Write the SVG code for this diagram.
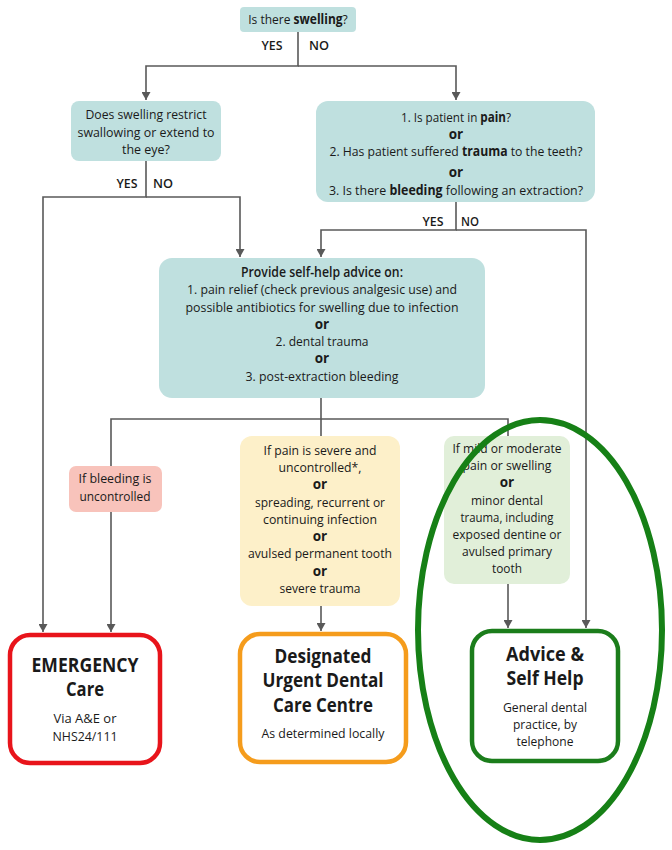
<svg xmlns="http://www.w3.org/2000/svg" width="672" height="850" viewBox="0 0 672 850">
<style>
text{font-family:"Open Sans","Noto Sans","Liberation Sans",sans-serif;font-size:13.5px;fill:#1a1a1a;text-anchor:middle}
.b{font-weight:bold}
.yn{font-size:12.5px;font-weight:600}
.h{font-size:19px;font-weight:bold}
.s{font-size:13px}
.teal{fill:#bfe0df}
.red{fill:#f8c3bb}
.yel{fill:#fdf0c9}
.grn{fill:#e1efd9}
.c{fill:none;stroke:#595959;stroke-width:1.6}
.ca{fill:none;stroke:#595959;stroke-width:1.6;marker-end:url(#ar)}
.out{fill:#fff;stroke-width:4.5}
</style>
<defs>
<marker id="ar" markerUnits="userSpaceOnUse" markerWidth="9" markerHeight="9" refX="8" refY="4.5" orient="auto" viewBox="0 0 9 9">
<path d="M0,0 L8,4.5 L0,9 z" fill="#595959"/>
</marker>
</defs>
<rect width="672" height="850" fill="#fff"/>

<g id="connectors">
<path class="ca" d="M298,32 V66 H146 V100"/>
<path class="ca" d="M298,66 H456 V100"/>
<path class="ca" d="M146,161 V197 H43 V632"/>
<path class="ca" d="M146,197 H240 V257"/>
<path class="ca" d="M456,202 V230 H321 V257"/>
<path class="ca" d="M456,230 H586 V628"/>
<path class="c" d="M321,398 V419 H111 V466"/>
<path class="c" d="M321,419 V436"/>
<path class="c" d="M321,419 H508 V436"/>
<path class="ca" d="M111,512 V632"/>
<path class="ca" d="M321,606 V631"/>
<path class="ca" d="M508,584 V628"/>
<text class="yn" x="272" y="50" textLength="21" lengthAdjust="spacingAndGlyphs">YES</text>
<text class="yn" x="319" y="50" textLength="20" lengthAdjust="spacingAndGlyphs">NO</text>
<text class="yn" x="127" y="188" textLength="21" lengthAdjust="spacingAndGlyphs">YES</text>
<text class="yn" x="163" y="188" textLength="20" lengthAdjust="spacingAndGlyphs">NO</text>
<text class="yn" x="433" y="226" textLength="21" lengthAdjust="spacingAndGlyphs">YES</text>
<text class="yn" x="470" y="226" textLength="18" lengthAdjust="spacingAndGlyphs">NO</text>
</g>

<g id="q-swelling">
<rect class="teal" x="240" y="7" width="116" height="25" rx="4"/>
<text transform="translate(298,24) scale(0.89,1)">Is there <tspan class="b">swelling</tspan>?</text>
</g>

<g id="q-restrict">
<rect class="teal" x="71" y="101" width="150" height="60" rx="8"/>
<text x="146" y="119" textLength="121" lengthAdjust="spacingAndGlyphs">Does swelling restrict</text>
<text x="146" y="137" textLength="137" lengthAdjust="spacingAndGlyphs">swallowing or extend to</text>
<text x="146" y="154" textLength="48" lengthAdjust="spacingAndGlyphs">the eye?</text>
</g>

<g id="q-pain">
<rect class="teal" x="316" y="101" width="279" height="101" rx="12"/>
<text transform="translate(456,122) scale(0.865,1)">1. Is patient in <tspan class="b">pain</tspan>?</text>
<text class="b" x="456" y="139">or</text>
<text transform="translate(456,156) scale(0.905,1)">2. Has patient suffered <tspan class="b">trauma</tspan> to the teeth?</text>
<text class="b" x="456" y="177">or</text>
<text transform="translate(456,195) scale(0.92,1)">3. Is there <tspan class="b">bleeding</tspan> following an extraction?</text>
</g>

<g id="self-help">
<rect class="teal" x="159" y="258" width="326" height="140" rx="13"/>
<text x="322" y="277" font-weight="600" textLength="162" lengthAdjust="spacingAndGlyphs">Provide self-help advice on:</text>
<text x="322" y="294" textLength="270" lengthAdjust="spacingAndGlyphs">1. pain relief (check previous analgesic use) and</text>
<text x="322" y="312" textLength="273" lengthAdjust="spacingAndGlyphs">possible antibiotics for swelling due to infection</text>
<text class="b" x="322" y="329">or</text>
<text x="322" y="346" textLength="93" lengthAdjust="spacingAndGlyphs">2. dental trauma</text>
<text class="b" x="322" y="363">or</text>
<text x="322" y="381" textLength="153" lengthAdjust="spacingAndGlyphs">3. post-extraction bleeding</text>
</g>

<g id="c-bleeding">
<rect class="red" x="69" y="466" width="93" height="46" rx="7"/>
<text x="115" y="483" textLength="73" lengthAdjust="spacingAndGlyphs">If bleeding is</text>
<text x="115" y="501" textLength="71" lengthAdjust="spacingAndGlyphs">uncontrolled</text>
</g>

<g id="c-severe">
<rect class="yel" x="240" y="436" width="160" height="170" rx="12"/>
<text x="320" y="455" textLength="113" lengthAdjust="spacingAndGlyphs">If pain is severe and</text>
<text x="320" y="472" textLength="83" lengthAdjust="spacingAndGlyphs">uncontrolled*,</text>
<text class="b" x="320" y="489">or</text>
<text x="320" y="507" textLength="130" lengthAdjust="spacingAndGlyphs">spreading, recurrent or</text>
<text x="320" y="524" textLength="114" lengthAdjust="spacingAndGlyphs">continuing infection</text>
<text class="b" x="320" y="541">or</text>
<text x="320" y="558" textLength="144" lengthAdjust="spacingAndGlyphs">avulsed permanent tooth</text>
<text class="b" x="320" y="576">or</text>
<text x="320" y="593" textLength="81" lengthAdjust="spacingAndGlyphs">severe trauma</text>
</g>

<g id="c-mild">
<rect class="grn" x="444" y="436" width="126" height="148" rx="10"/>
<text x="507" y="453" textLength="109" lengthAdjust="spacingAndGlyphs">If mild or moderate</text>
<text x="507" y="470" textLength="89" lengthAdjust="spacingAndGlyphs">pain or swelling</text>
<text class="b" x="507" y="487">or</text>
<text x="507" y="505" textLength="72" lengthAdjust="spacingAndGlyphs">minor dental</text>
<text x="507" y="522" textLength="93" lengthAdjust="spacingAndGlyphs">trauma, including</text>
<text x="507" y="539" textLength="109" lengthAdjust="spacingAndGlyphs">exposed dentine or</text>
<text x="507" y="556" textLength="90" lengthAdjust="spacingAndGlyphs">avulsed primary</text>
<text x="507" y="573" textLength="30" lengthAdjust="spacingAndGlyphs">tooth</text>
</g>

<g id="emergency">
<rect class="out" x="10" y="635" width="150" height="128" rx="20" stroke="#e8141b"/>
<text class="h" x="85" y="672" textLength="107" lengthAdjust="spacingAndGlyphs">EMERGENCY</text>
<text class="h" x="85" y="696" textLength="38" lengthAdjust="spacingAndGlyphs">Care</text>
<text class="s" x="85" y="723" textLength="63" lengthAdjust="spacingAndGlyphs">Via A&amp;E or</text>
<text class="s" x="85" y="741" textLength="65" lengthAdjust="spacingAndGlyphs">NHS24/111</text>
</g>

<g id="urgent">
<rect class="out" x="240" y="634" width="166" height="128" rx="20" stroke="#f59c1c"/>
<text class="h" x="323" y="663" textLength="97" lengthAdjust="spacingAndGlyphs">Designated</text>
<text class="h" x="323" y="687" textLength="121" lengthAdjust="spacingAndGlyphs">Urgent Dental</text>
<text class="h" x="323" y="712" textLength="100" lengthAdjust="spacingAndGlyphs">Care Centre</text>
<text class="s" x="323" y="738" textLength="123" lengthAdjust="spacingAndGlyphs">As determined locally</text>
</g>

<g id="advice">
<rect class="out" x="472" y="631" width="146" height="130" rx="20" stroke="#1b7d1b"/>
<text class="h" x="545" y="661" textLength="78" lengthAdjust="spacingAndGlyphs">Advice &amp;</text>
<text class="h" x="545" y="685" textLength="77" lengthAdjust="spacingAndGlyphs">Self Help</text>
<text class="s" x="545" y="712" textLength="84" lengthAdjust="spacingAndGlyphs">General dental</text>
<text class="s" x="545" y="729" textLength="64" lengthAdjust="spacingAndGlyphs">practice, by</text>
<text class="s" x="545" y="746" textLength="57" lengthAdjust="spacingAndGlyphs">telephone</text>
</g>

<g id="highlight">
<ellipse cx="540" cy="630" rx="122" ry="210" fill="none" stroke="#168016" stroke-width="6"/>
</g>
</svg>
